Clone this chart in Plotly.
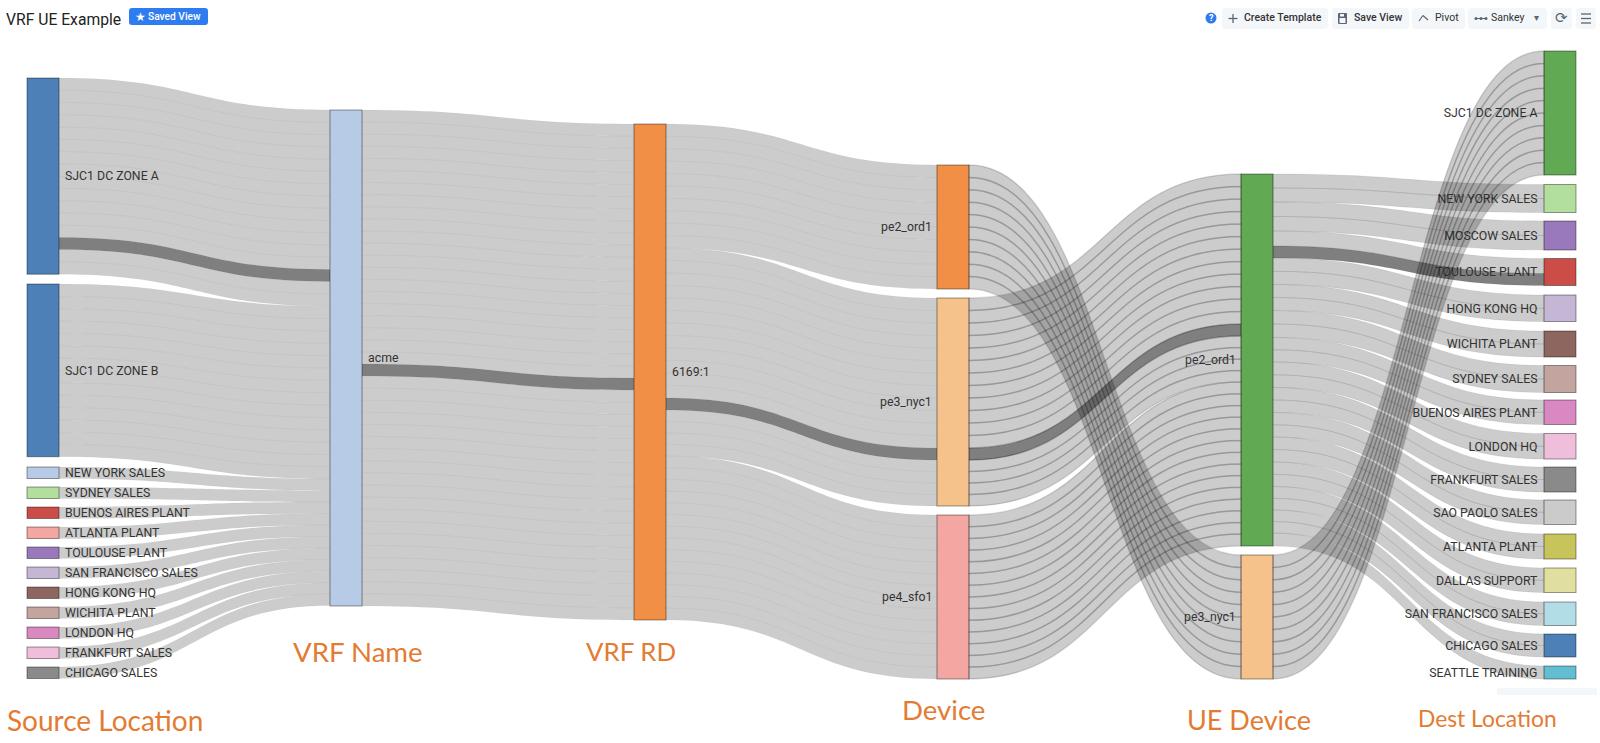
import plotly.graph_objects as go

# ---------- data ----------
source_labels = ["SJC1 DC ZONE A", "SJC1 DC ZONE B", "NEW YORK SALES", "SYDNEY SALES", "BUENOS AIRES PLANT",
                 "ATLANTA PLANT", "TOULOUSE PLANT", "SAN FRANCISCO SALES", "HONG KONG HQ", "WICHITA PLANT",
                 "LONDON HQ", "FRANKFURT SALES", "CHICAGO SALES"]
vrf_labels = ["acme"]
rd_labels = ["6169:1"]
device_labels = ["pe2_ord1", "pe3_nyc1", "pe4_sfo1"]
ue_labels = ["pe2_ord1", "pe3_nyc1"]
dest_labels = ["SJC1 DC ZONE A", "NEW YORK SALES", "MOSCOW SALES", "TOULOUSE PLANT", "HONG KONG HQ", "WICHITA PLANT",
               "SYDNEY SALES", "BUENOS AIRES PLANT", "LONDON HQ", "FRANKFURT SALES", "SAO PAOLO SALES",
               "ATLANTA PLANT", "DALLAS SUPPORT", "SAN FRANCISCO SALES", "CHICAGO SALES", "SEATTLE TRAINING"]

# (source index, target index, widths of the parallel flows, index of the highlighted flow or None)
stage1_links = [
    (0, 0, [12.3, 12.2, 12.3, 12.3, 12.2, 12.3, 12.3, 12.2, 12.3, 12.3, 12.2, 12.3, 12.3, 12.0, 12.3, 12.4], 13),
    (1, 0, [12.4, 12.3, 12.4, 12.3, 12.4, 12.3, 12.4, 12.3, 12.4, 12.3, 12.4, 12.3, 12.3, 12.2], None),
    (2, 0, [11.5], None), (3, 0, [11.5], None), (4, 0, [11.5], None), (5, 0, [11.5], None),
    (6, 0, [11.5], None), (7, 0, [11.5], None), (8, 0, [11.5], None), (9, 0, [11.5], None),
    (10, 0, [11.5], None), (11, 0, [11.5], None), (12, 0, [11.5], None),
]
stage2_links = [
    (0, 0, [12.1, 12.1, 12.1, 12.1, 12.1, 12.1, 12.1, 12.1, 12.1, 12.1, 12.1, 12.1, 12.1, 12.1, 12.1, 12.1, 12.1,
            12.1, 12.1, 12.1, 12.1, 12.0, 12.1, 12.1, 12.1, 12.1, 12.1, 12.1, 12.1, 12.1, 12.1, 12.1, 12.1, 12.1,
            12.1, 12.1, 12.1, 12.1, 12.1, 12.1, 12.1], 21),
]
stage3_links = [
    (0, 0, [12.4, 12.4, 12.4, 12.4, 12.4, 12.4, 12.4, 12.4, 12.4, 12.4], None),
    (0, 1, [12.5, 12.5, 12.5, 12.5, 12.5, 12.5, 12.5, 12.5, 12.5, 12.5, 12.5, 12.5, 12.0, 11.5, 11.5, 11.5, 11.5], 12),
    (0, 2, [11.7, 11.7, 11.7, 11.7, 11.7, 11.7, 11.7, 11.7, 11.7, 11.7, 11.7, 11.7, 11.7, 11.9], None),
]
stage4_links = [
    (0, 1, [12.4, 12.4, 12.4, 12.4, 12.4, 12.4, 12.4, 12.4, 12.4, 12.4], None),
    (1, 0, [12.5, 12.5, 12.5, 12.5, 12.5, 12.5, 12.5, 12.5, 12.5, 12.5, 12.5, 12.5, 12.0, 11.5, 11.5, 11.5, 11.5], 12),
    (2, 0, [11.7, 11.7, 11.7, 11.7, 11.7, 11.7, 11.7, 11.7, 11.7, 11.7, 11.7, 11.7, 11.7, 11.9], None),
]
stage5_links = [
    (1, 0, [12.4, 12.4, 12.4, 12.4, 12.4, 12.4, 12.4, 12.4, 12.4, 12.4], None),
    (0, 1, [14.0, 14.0], None), (0, 2, [14.5, 14.5], None), (0, 3, [15.0, 12.0], 1),
    (0, 4, [13.3, 13.2], None), (0, 5, [13.0, 13.0], None), (0, 6, [13.5, 13.5], None),
    (0, 7, [12.3, 12.2], None), (0, 8, [12.8, 12.7], None), (0, 9, [12.5, 12.5], None),
    (0, 10, [12.3, 12.2], None), (0, 11, [12.5, 12.5], None), (0, 12, [12.3, 12.2], None),
    (0, 13, [11.8, 11.7], None), (0, 14, [11.5, 11.5], None), (0, 15, [13.0], None),
]

source_colors = ["#4C80B6", "#4C80B6", "#B8CBE6", "#B3DF9E", "#CB4D47", "#F4A6A2", "#9A78BC", "#C6B6D5", "#8D6660",
                 "#C4A49F", "#D988C2", "#EFBEDA", "#8A8A8A"]
vrf_colors = ["#B8CBE6"]
rd_colors = ["#F28F47"]
device_colors = ["#F28F47", "#F6C28B", "#F4A6A2"]
ue_colors = ["#61A952", "#F6C28B"]
dest_colors = ["#61A952", "#B3DF9E", "#9A78BC", "#CB4D47", "#C6B6D5", "#8D6660", "#C4A49F", "#D988C2", "#EFBEDA",
               "#8A8A8A", "#CBCBCB", "#C6C45A", "#E0DFA0", "#B2DCE6", "#4C80B6", "#62BED0"]

# ---------- layout of the page (pixels of the 1600x743 window) ----------
FIG_W, FIG_H = 1600, 743
M_L, M_R, M_T, M_B = 27, 24, 51, 64
PLOT_W = FIG_W - M_L - M_R
PLOT_H = FIG_H - M_T - M_B
NODE_W = 32

column_left = [27, 330, 634, 937, 1241, 1544]
source_top = [78, 284, 467, 487, 507, 527, 547, 567, 587, 607, 627, 647, 667]
vrf_top = [110]
rd_top = [124]
device_top = [165, 298, 515]
ue_top = [174, 555]
dest_top = [51, 184.5, 221, 258.5, 295, 331, 365.5, 400, 433.5, 467, 500, 534, 568, 602, 634, 666]

columns = [
    (source_labels, source_colors, source_top, "right"),
    (vrf_labels, vrf_colors, vrf_top, "right"),
    (rd_labels, rd_colors, rd_top, "right"),
    (device_labels, device_colors, device_top, "overlay"),
    (ue_labels, ue_colors, ue_top, "overlay"),
    (dest_labels, dest_colors, dest_top, "left"),
]
stages = [stage1_links, stage2_links, stage3_links, stage4_links, stage5_links]

GREY = "rgba(0,0,0,0.2)"
DARK = "rgba(0,0,0,0.5)"
LEFT_PAD = "\u2009"
RIGHT_PAD = "\u00a0"

offsets = []
n = 0
for col in columns:
    offsets.append(n)
    n += len(col[0])

# node height follows from the flows
in_sum = [0.0] * n
out_sum = [0.0] * n
sources, targets, values, colours, link_stage = [], [], [], [], []
for si, stage in enumerate(stages):
    for s, t, widths, hi in stage:
        a, b = offsets[si] + s, offsets[si + 1] + t
        for k, w in enumerate(widths):
            sources.append(a)
            targets.append(b)
            values.append(w)
            colours.append(DARK if k == hi else GREY)
            link_stage.append(si)
            out_sum[a] += w
            in_sum[b] += w

overlay_labels = []
node_labels, node_colors, node_x, node_y = [], [], [], []
for ci, (labels, cols, tops, side) in enumerate(columns):
    for i, lab in enumerate(labels):
        idx = offsets[ci] + i
        h = max(in_sum[idx], out_sum[idx])
        if side == "right":
            node_labels.append(LEFT_PAD + lab)
        elif side == "left":
            node_labels.append(lab + RIGHT_PAD)
        else:
            node_labels.append("")
            overlay_labels.append((lab, column_left[ci] - 5, tops[i] + h / 2))
        node_colors.append(cols[i])
        node_x.append((column_left[ci] + NODE_W / 2 - M_L) / PLOT_W)
        node_y.append((tops[i] + h / 2 - M_T) / PLOT_H)

main_trace = go.Sankey(
    arrangement="fixed",
    hoverinfo="skip",
    textfont=dict(family="Roboto, sans-serif", size=12.3, color="#333333", shadow="none"),
    node=dict(label=node_labels, color=node_colors, x=node_x, y=node_y, pad=8.8, thickness=NODE_W,
              line=dict(color="rgba(0,0,0,0.4)", width=1), hoverinfo="skip"),
    link=dict(source=sources, target=targets, value=values, color=colours,
              line=dict(color="rgba(0,0,0,0.03)", width=0.8), hoverinfo="skip"),
)


def outline_trace(link_ids, line_colour, line_width):
    """The same flows again, outline only: hairlines where bands run steeply, at the same scale as the main trace."""
    used = sorted({sources[i] for i in link_ids} | {targets[i] for i in link_ids})
    remap = {node: j for j, node in enumerate(used)}
    column_of = {node: ci for ci in range(len(columns)) for node in range(offsets[ci], offsets[ci] + len(columns[ci][0]))}
    pads = []
    for ci in range(len(columns)):
        members = [node for node in used if column_of[node] == ci]
        if len(members) > 1:
            total = sum(max(in_sum[m], out_sum[m]) for m in members)
            pads.append((PLOT_H - total) / (len(members) - 1))
    return go.Sankey(
        arrangement="fixed",
        hoverinfo="skip",
        textfont=dict(size=1, color="rgba(0,0,0,0)", shadow="none"),
        node=dict(label=[""] * len(used), color=["rgba(0,0,0,0)"] * len(used),
                  x=[node_x[u] for u in used], y=[node_y[u] for u in used], pad=min(pads), thickness=NODE_W,
                  line=dict(color="rgba(0,0,0,0)", width=0), hoverinfo="skip"),
        link=dict(source=[remap[sources[i]] for i in link_ids], target=[remap[targets[i]] for i in link_ids],
                  value=[values[i] for i in link_ids], color=["rgba(0,0,0,0)"] * len(link_ids),
                  line=dict(color=line_colour, width=line_width), hoverinfo="skip"),
    )


ue_pe3 = offsets[4] + 1
steep_ids = [i for i, st in enumerate(link_stage) if st == 3 or (st == 4 and sources[i] == ue_pe3)]
fan_ids = [i for i, st in enumerate(link_stage) if st == 4 and sources[i] != ue_pe3]

fig = go.Figure([main_trace,
                 outline_trace(fan_ids, "rgba(0,0,0,0.05)", 1.0),
                 outline_trace(steep_ids, "rgba(0,0,0,0.12)", 1.5)])


def px(x):
    return (x - M_L) / PLOT_W


def py(y):
    return 1 - (y - M_T) / PLOT_H


annotations = []
shapes = []


def text(x, y, s, size, color, family="Roboto, sans-serif", anchor="left", weight=None):
    font = dict(family=family, size=size, color=color)
    if weight:
        font["weight"] = weight
    annotations.append(dict(x=px(x), y=py(y), xref="paper", yref="paper", text=s, showarrow=False, font=font,
                            xanchor=anchor, yanchor="middle", borderpad=0, borderwidth=0))


def round_rect(x0, y0, x1, y1, r, fill):
    X0, X1, Y0, Y1 = px(x0), px(x1), py(y0), py(y1)
    rx, ry = r / PLOT_W, r / PLOT_H
    path = (f"M{X0 + rx},{Y0} L{X1 - rx},{Y0} Q{X1},{Y0} {X1},{Y0 - ry} L{X1},{Y1 + ry} Q{X1},{Y1} {X1 - rx},{Y1} "
            f"L{X0 + rx},{Y1} Q{X0},{Y1} {X0},{Y1 + ry} L{X0},{Y0 - ry} Q{X0},{Y0} {X0 + rx},{Y0} Z")
    shapes.append(dict(type="path", xref="paper", yref="paper", path=path, fillcolor=fill, line=dict(width=0), layer="below"))


def stroke(x0, y0, x1, y1, color="#5A6672", width=1.3):
    shapes.append(dict(type="line", xref="paper", yref="paper", x0=px(x0), y0=py(y0), x1=px(x1), y1=py(y1),
                       line=dict(color=color, width=width)))


# labels that sit to the left of the interior columns
for lab, x, y in overlay_labels:
    text(x, y, lab, 12.3, "#333333", anchor="right")

# header
text(6, 19, "VRF UE Example", 15.7, "#222222")
round_rect(129, 8, 208, 25, 3, "#2F7CF0")
text(135, 17, "★", 12, "#FFFFFF", family="DejaVu Sans")
text(148, 17, "Saved View", 10.2, "#FFFFFF", weight=500)

# toolbar
BTN = "#F4F7FA"
shapes.append(dict(type="circle", xref="paper", yref="paper", x0=px(1205.5), x1=px(1216.5), y0=py(12.5), y1=py(23.5),
                   fillcolor="#2F7CF0", line=dict(width=0)))
text(1211, 18, "?", 9, "#FFFFFF", anchor="center", weight=700)
for x0, x1 in [(1222, 1328), (1332, 1409), (1412, 1465), (1468, 1547), (1551, 1572), (1576, 1596)]:
    round_rect(x0, 8, x1, 29, 3, BTN)
stroke(1233, 14, 1233, 23)
stroke(1228.5, 18.5, 1237.5, 18.5)
text(1244, 18, "Create Template", 10.5, "#333333", weight=500)
round_rect(1338, 13, 1347, 24, 1, "#5A6672")
round_rect(1339.5, 18, 1345.5, 23, 0.5, BTN)
round_rect(1340, 14, 1344, 16.5, 0.3, BTN)
text(1354, 18, "Save View", 10.5, "#333333", weight=500)
stroke(1419, 21, 1423, 15.5, width=1.2)
stroke(1423, 15.5, 1428, 20, width=1.2)
text(1435, 18, "Pivot", 10.5, "#333333", weight=400)
stroke(1475, 18.5, 1487, 18.5, width=1)
for cx in (1476, 1481, 1486):
    shapes.append(dict(type="circle", xref="paper", yref="paper", x0=px(cx - 1.5), x1=px(cx + 1.5), y0=py(17), y1=py(20),
                       fillcolor="#5A6672", line=dict(width=0)))
text(1491, 18, "Sankey", 10.5, "#333333", weight=400)
text(1536, 18, "▾", 10, "#5A6672", family="DejaVu Sans", anchor="center")
text(1561, 18, "⟳", 15, "#5A6672", family="DejaVu Sans", anchor="center")
for yy in (14, 18.5, 23):
    stroke(1581, yy, 1591, yy)

# stray panel edge at the lower right of the screenshot
round_rect(1497, 688, 1597, 695, 1, BTN)

# hand-written column captions
CAPTION = "#E37B33"
for caption, cx, cy, size in [("Source Location", 104.5, 720, 28), ("VRF Name", 357.5, 651, 27.6),
                              ("VRF RD", 631, 651, 25.8), ("Device", 944, 709, 27.6),
                              ("UE Device", 1249, 719, 27), ("Dest Location", 1487, 718, 22.8)]:
    text(cx, cy, caption, size, CAPTION, family="Lato, sans-serif", anchor="center")

fig.update_layout(width=FIG_W, height=FIG_H, autosize=False,
                  margin=dict(l=M_L, r=M_R, t=M_T, b=M_B, pad=0),
                  paper_bgcolor="#FFFFFF", plot_bgcolor="#FFFFFF",
                  annotations=annotations, shapes=shapes)
fig.write_html("out.html", config={"displayModeBar": False},
               post_script="document.body.style.margin='0';document.body.style.overflow='hidden';")
